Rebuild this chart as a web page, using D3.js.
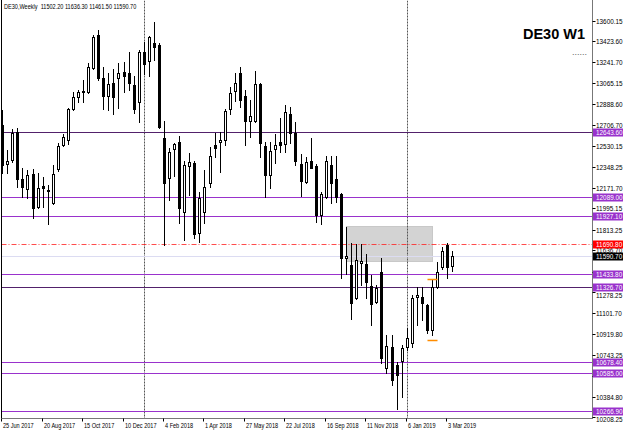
<!DOCTYPE html>
<html><head><meta charset="utf-8">
<script src="https://cdn.jsdelivr.net/npm/d3@7"></script>
<style>html,body{margin:0;padding:0;background:#fff;overflow:hidden}svg{display:block}</style>
</head><body><svg id="c" width="625" height="433"></svg>
<script>
// ---------------- DATA ----------------
const symbolTitle = "DE30,Weekly";
const chartLabel = "DE30 W1";
const lastOHLC = [11502.20, 11636.30, 11461.50, 11590.70];
const firstWeek = "2017-06-25";
const barCount = 90;

const open = [12711.5,12378.2,12412.4,12654.2,12250.0,12164.6,12292.8,12010.8,12190.2,12156.0,
12045.0,12335.5,12540.6,12583.3,12848.2,12950.7,13004.6,12993.5,13198.5,13480.5,
13113.1,12959.3,13070.4,13113.1,13164.4,13155.8,13053.3,12908.0,13335.3,13258.4,
13412.2,13395.1,12600.4,12258.6,12506.4,12566.2,11968.1,12361.1,12386.8,11788.6,
11968.1,12215.9,12540.6,12566.2,12583.3,12848.2,13004.6,13155.8,12959.3,12745.7,
12745.7,13061.8,12532.0,12284.2,12506.4,12566.2,12549.1,12805.5,12643.1,12378.2,
12224.4,12403.9,12361.1,11942.4,12096.2,12369.7,12250.0,12121.9,11575.0,11515.2,
11233.2,11536.0,11523.7,11335.7,11199.0,11455.4,10635.0,10814.5,10660.7,10694.9,
10814.5,10848.7,11241.7,11241.7,11173.4,10959.7,11327.2,11498.1,11686.1,11502.2];
const high = [12839.6,12497.9,12677.3,12685.8,12344.0,12327.0,12335.5,12301.3,12267.1,12198.8,
12369.7,12557.7,12634.6,12856.7,12993.5,13010.6,13096.0,13241.3,13480.5,13523.2,
13207.1,13155.8,13190.0,13241.3,13249.8,13335.3,13130.2,13352.4,13420.7,13472.0,
13591.6,13412.2,12745.7,12514.9,12557.7,12617.5,12403.9,12472.2,12400.0,12139.0,
12327.0,12523.5,12643.1,12651.7,12848.2,13036.2,13155.8,13207.1,13010.6,12925.1,
13172.9,13070.4,12566.2,12566.2,12634.6,12771.3,12882.4,12865.3,12737.1,12463.7,
12438.0,12600.4,12378.2,12139.0,12446.6,12446.6,12446.6,12130.0,11840.0,11703.2,
11694.6,11694.6,11609.2,11429.7,11344.3,11575.0,10917.0,10917.0,10686.3,10831.6,
10976.8,11258.8,11327.2,11327.2,11181.9,11387.0,11540.8,11669.0,11703.2,11636.3];
const low = [12301.3,12303.9,12395.3,12181.7,12096.2,12087.7,11916.8,12000.0,12010.8,11865.5,
12036.4,12318.4,12532.0,12549.1,12839.6,12908.0,12908.0,12984.9,13190.0,13096.0,
12848.2,12839.6,12805.5,12856.7,12993.5,13010.6,12814.0,12737.1,13147.3,13130.2,
13266.9,12690.0,11686.1,12070.6,12275.7,11874.1,11728.8,12113.3,11745.9,11711.7,
11874.1,12181.7,12438.0,12309.9,12540.6,12805.5,12916.6,12865.3,12540.6,12608.9,
12737.1,12438.0,12096.2,12173.1,12386.8,12480.8,12480.8,12557.7,12369.7,12104.8,
12215.9,12340.0,11882.6,11865.5,12087.7,12045.0,12053.5,11404.1,11438.3,11053.7,
11224.7,11344.3,11233.2,11002.5,11190.5,10677.8,10592.3,10489.8,10284.7,10387.2,
10788.9,10814.5,11002.5,11045.2,10934.1,10917.0,11318.6,11481.0,11404.1,11461.5];
const close = [12369.7,12406.4,12643.1,12250.0,12181.7,12284.2,12002.2,12173.1,12173.1,12147.5,
12292.8,12532.0,12608.9,12848.2,12950.7,12993.5,12993.5,13207.1,13463.4,13113.1,
12959.3,13061.8,12950.7,13155.8,13130.2,13070.4,12848.2,13335.3,13232.7,13463.4,
13378.0,12694.4,12215.9,12480.8,12549.1,12002.2,12369.7,12395.3,11780.1,12087.7,
12181.7,12446.6,12514.9,12583.3,12831.1,12984.9,13070.4,12925.1,12745.7,12788.4,
13061.8,12557.7,12284.2,12489.3,12540.6,12540.6,12822.6,12643.1,12403.9,12233.0,
12395.3,12344.0,11942.4,12121.9,12403.9,12215.9,12096.2,11575.0,11590.0,11190.5,
11557.9,11545.0,11369.9,11181.9,11318.6,10720.5,10823.0,10532.5,10575.2,10805.9,
10891.4,11233.2,11258.8,11190.5,10959.7,11327.2,11455.4,11634.8,11498.1,11590.7];

const priceTicks = [13600.15,13423.60,13241.70,13065.15,12888.60,12706.70,12530.15,12348.25,12171.70,
11995.15,11813.25,11636.70,11454.80,11278.25,11101.70,10919.80,10743.25,10561.35,10384.80,10208.25];
const timeTickLabels = ["25 Jun 2017","20 Aug 2017","15 Oct 2017","10 Dec 2017","4 Feb 2018","1 Apr 2018",
"27 May 2018","22 Jul 2018","16 Sep 2018","11 Nov 2018","6 Jan 2019","3 Mar 2019"];

const levelPrices = [12643.60, 12089.00, 11927.10, 11433.80, 11326.70, 10678.40, 10585.00, 10266.90];
const darkLevels = [12643.60, 11326.70];
const redLevel = 11690.80;
const bidPrice = 11590.70;
const zoneTimes = ["2018-10-14", "2019-02-10"];
const zonePrices = [11848, 11549];
const orangeTimes = ["2019-02-03", "2019-02-17"];
const orangePrices = [11395, 10866];

// ---------------- CHART ----------------
const svg = d3.select("#c");
const FONT = "'Liberation Sans', Arial, sans-serif";
const FS = 6.4;
const NARROW = 0.87;
const parseISO = d3.utcParse("%Y-%m-%d");
const parseLbl = d3.utcParse("%d %b %Y");
const t0 = parseISO(firstWeek);
const dates = d3.utcWeek.range(t0, d3.utcWeek.offset(t0, barCount));
const bars = dates.map((d, i) => ({d, o: open[i], h: high[i], l: low[i], c: close[i]}));

const x = d3.scaleUtc().domain([dates[0], dates[dates.length - 1]]).range([2.7, 452.7]);
const y = d3.scaleLinear().domain([priceTicks[priceTicks.length - 1], priceTicks[0]]).range([417.9, 21]);
const pc = v => Math.round(v - 0.5) + 0.5;

const L = 1.5, R = 592.5, T = 0.5, B = 418.5;

svg.append("rect").attr("width", 625).attr("height", 433).attr("fill", "#fff");
svg.append("defs").append("clipPath").attr("id", "clip")
  .append("rect").attr("x", L).attr("y", T).attr("width", R - L).attr("height", B - T);
const plot = svg.append("g").attr("clip-path", "url(#clip)");

// zone rectangle
plot.append("rect")
  .attr("x", pc(x(parseISO(zoneTimes[0])))).attr("y", pc(y(zonePrices[0])))
  .attr("width", pc(x(parseISO(zoneTimes[1]))) - pc(x(parseISO(zoneTimes[0]))))
  .attr("height", pc(y(zonePrices[1])) - pc(y(zonePrices[0])))
  .attr("fill", "#d3d3d3").attr("stroke", "#c8c8c8").attr("stroke-width", 1);

// year separators
const seps = dates.filter((d, i) => i > 0 && d.getUTCFullYear() !== dates[i - 1].getUTCFullYear());
plot.selectAll(".sep").data(seps).join("line")
  .attr("x1", d => pc(x(d))).attr("x2", d => pc(x(d)))
  .attr("y1", T).attr("y2", B)
  .attr("stroke", "#555").attr("stroke-width", 1).attr("stroke-dasharray", "2,1");

// level lines
const lvlColor = "#9932cc";
plot.selectAll(".lvl").data(levelPrices).join("line")
  .attr("x1", L).attr("x2", R)
  .attr("y1", d => pc(y(d))).attr("y2", d => pc(y(d)))
  .attr("stroke", d => darkLevels.includes(d) ? "#52216b" : lvlColor).attr("stroke-width", 1);

// red dash-dot line
plot.append("line").attr("x1", L).attr("x2", R)
  .attr("y1", pc(y(redLevel))).attr("y2", pc(y(redLevel)))
  .attr("stroke", "#ff2020").attr("stroke-width", 1).attr("stroke-dasharray", "5,2,1,2").attr("opacity", 0.8);

// bid line
plot.append("line").attr("x1", L).attr("x2", R)
  .attr("y1", pc(y(bidPrice))).attr("y2", pc(y(bidPrice)))
  .attr("stroke", "#dcdcf2").attr("stroke-width", 1);

// candles
const cg = plot.append("g");
cg.selectAll(".wick").data(bars).join("line")
  .attr("x1", d => pc(x(d.d))).attr("x2", d => pc(x(d.d)))
  .attr("y1", d => Math.round(y(d.h))).attr("y2", d => Math.round(y(d.l)) + 1)
  .attr("stroke", "#000").attr("stroke-width", 1);
cg.selectAll(".body").data(bars).join("rect")
  .attr("x", d => pc(x(d.d)) - (d.c > d.o ? 1 : 1.5))
  .attr("width", d => d.c > d.o ? 2 : 3)
  .attr("y", d => {
    const top = Math.round(y(Math.max(d.o, d.c)));
    return d.c > d.o ? top + 0.5 : top;
  })
  .attr("height", d => {
    const top = Math.round(y(Math.max(d.o, d.c)));
    const bot = Math.round(y(Math.min(d.o, d.c)));
    return d.c > d.o ? Math.max(bot - top, 1) : Math.max(bot - top + 1, 1);
  })
  .attr("fill", d => d.c > d.o ? "#fff" : "#000")
  .attr("stroke", d => d.c > d.o ? "#000" : "none")
  .attr("stroke-width", 1);

// orange segments
plot.selectAll(".org").data(orangePrices).join("line")
  .attr("x1", pc(x(parseISO(orangeTimes[0])))).attr("x2", pc(x(parseISO(orangeTimes[1]))))
  .attr("y1", d => pc(y(d))).attr("y2", d => pc(y(d)))
  .attr("stroke", "#ff8c00").attr("stroke-width", 1.5);

// frame
svg.append("line").attr("x1", L).attr("x2", L).attr("y1", 0).attr("y2", B).attr("stroke", "#000");
svg.append("line").attr("x1", L).attr("x2", R).attr("y1", B).attr("y2", B).attr("stroke", "#777");
svg.append("line").attr("x1", R).attr("x2", R).attr("y1", 0).attr("y2", B + 0.5).attr("stroke", "#777");

// coloured price tags
const tags = levelPrices.map(p => ({p, bg: lvlColor}))
  .concat([{p: redLevel, bg: "#ff0000"}, {p: bidPrice, bg: "#000"}]);
const tagYs = tags.map(t => pc(y(t.p)));

// price axis (label hidden when a tag sits right on it, nudged when just below one)
const pa = svg.append("g").attr("font-family", FONT).attr("font-size", FS).attr("fill", "#000");
priceTicks.forEach(p => {
  const yy = pc(y(p));
  pa.append("line").attr("x1", R).attr("x2", R + 3).attr("y1", yy).attr("y2", yy).attr("stroke", "#000");
  const dmin = d3.min(tagYs, ty => Math.abs(ty - yy));
  if (dmin < 4.5) return;
  let ty = yy + 2.3;
  const below = tagYs.filter(t => yy - t > 0 && yy - t < 7.5);
  const above = tagYs.filter(t => t - yy > 0 && t - yy < 7.5);
  if (below.length && !above.length) ty = d3.max(below) + 10.2;
  pa.append("text").attr("x", 596).attr("y", ty).text(p.toFixed(2));
});

// time axis
const ta = svg.append("g").attr("font-family", FONT).attr("font-size", FS).attr("fill", "#000");
timeTickLabels.forEach(s => {
  const xx = pc(x(parseLbl(s)) - 1);
  ta.append("line").attr("x1", xx).attr("x2", xx).attr("y1", B).attr("y2", B + 3).attr("stroke", "#000");
  ta.append("text").attr("transform", `translate(${xx + 1.5},428) scale(${NARROW},1)`).text(s);
});

const tg = svg.append("g").attr("font-family", FONT).attr("font-size", FS);
tags.forEach((t, i) => {
  const yy = tagYs[i];
  tg.append("rect").attr("x", R + 0.5).attr("y", yy - 4).attr("width", 30).attr("height", 8).attr("fill", t.bg);
  tg.append("text").attr("x", 596).attr("y", yy + 2.3).attr("fill", "#fff").text(t.p.toFixed(2));
});

// header
svg.append("text").attr("transform", `translate(4,9) scale(${NARROW},1)`)
  .attr("font-family", FONT).attr("font-size", FS)
  .attr("fill", "#000").attr("xml:space", "preserve")
  .text(symbolTitle + "  " + lastOHLC.map(v => v.toFixed(2)).join(" "));

// big label
svg.append("text").attr("x", 585).attr("y", 39).attr("text-anchor", "end")
  .attr("font-family", FONT).attr("font-weight", "bold").attr("font-size", 14.5).attr("fill", "#000")
  .text(chartLabel);
svg.append("text").attr("x", 587).attr("y", 55).attr("text-anchor", "end")
  .attr("font-family", FONT).attr("font-size", 9).attr("fill", "#666").text("......");
</script>
</body></html>
